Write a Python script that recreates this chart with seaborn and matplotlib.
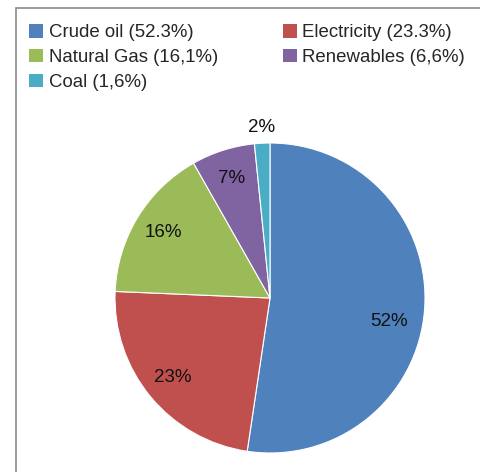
import matplotlib
matplotlib.use("Agg")
import numpy as np
import matplotlib.pyplot as plt
import seaborn as sns
from matplotlib.patches import Patch, Rectangle

sources = ["Crude oil", "Electricity", "Natural Gas", "Renewables", "Coal"]
shares = [52.3, 23.3, 16.1, 6.6, 1.6]
legend_labels = ["Crude oil (52.3%)", "Electricity (23.3%)", "Natural Gas (16,1%)",
                 "Renewables (6,6%)", "Coal (1,6%)"]
colors = ["#4F81BD", "#C0504D", "#9BBB59", "#8064A2", "#4BACC6"]

sns.set_theme(style="white")
plt.rcParams["font.family"] = ["Liberation Sans", "DejaVu Sans"]

W, H = 480, 472
fig = plt.figure(figsize=(W / 100, H / 100), dpi=100)
fig.patch.set_facecolor("white")

# chart frame (open to the right and bottom)
fig.add_artist(Rectangle((15.5 / W, -0.1), 1.2, 1 - 7.5 / H + 0.1, transform=fig.transFigure,
                         fill=False, edgecolor="#8a8a8a", linewidth=1.2))

cx, cy, r = 270, 298, 155
ax = fig.add_axes([(cx - r) / W, (H - cy - r) / H, 2 * r / W, 2 * r / H])
palette = sns.color_palette(colors)
pct_r = 0.81
wedges, texts, autotexts = ax.pie(
    shares, colors=palette, startangle=90, counterclock=False,
    autopct=lambda p: f"{p:.0f}%", pctdistance=pct_r,
    wedgeprops=dict(edgecolor="white", linewidth=0.8),
    textprops=dict(fontsize=13.5, color="#111111"),
)

def place(label, radius, turn=0.0):
    x, y = label.get_position()
    ang = np.arctan2(y, x) + np.deg2rad(turn)
    label.set_position((radius * np.cos(ang), radius * np.sin(ang)))

# best-fit style placement: large slice label sits a bit lower, coal label outside
place(autotexts[0], 0.78, turn=-7)
place(autotexts[-1], 1.1)

ax.set_xlim(-1, 1)
ax.set_ylim(-1, 1)
ax.set_aspect("equal")
ax.axis("off")

handles = [Patch(facecolor=c, edgecolor="none") for c in colors]
# reorder for row-wise filling in two columns
order = [0, 2, 4, 1, 3]
fig.legend([handles[i] for i in order], [legend_labels[i] for i in order],
           loc="upper left", bbox_to_anchor=(29 / W, 1 - 24 / H), ncol=2,
           frameon=False, fontsize=13.4, handlelength=0.75, handleheight=0.75,
           handletextpad=0.3, labelspacing=0.4, columnspacing=3.5,
           borderaxespad=0, borderpad=0)

fig.savefig("out.png", dpi=100)
